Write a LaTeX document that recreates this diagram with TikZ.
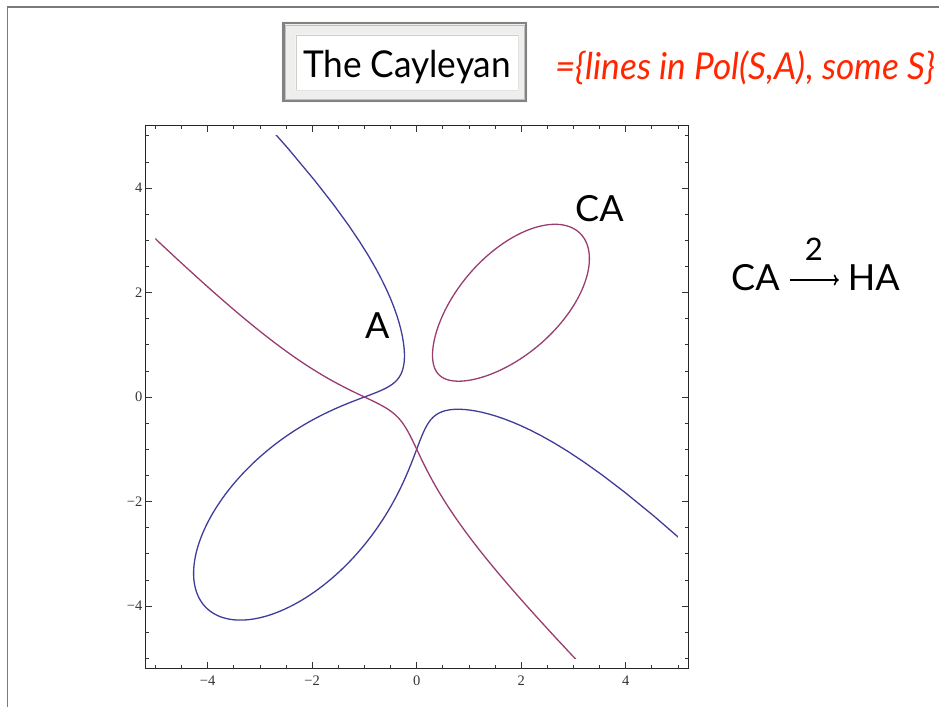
\documentclass[tikz,border=0pt]{standalone}
\usepackage{fontspec}
\setmainfont{Lato}
\newfontfamily\tickfont{Liberation Serif}
\usetikzlibrary{arrows.meta}

\definecolor{curveblue}{rgb}{0.247,0.24,0.6}
\definecolor{curvepurple}{rgb}{0.6,0.24,0.443}
\definecolor{titlered}{RGB}{255,38,0}
\definecolor{slidegray}{RGB}{122,122,122}
\definecolor{bevelgray}{RGB}{130,130,130}
\definecolor{matgray}{RGB}{238,238,236}
\definecolor{boxgray}{RGB}{205,205,205}

\tikzset{
  plotline/.style={line width=1.3pt, line join=round},
  tickline/.style={line width=0.7pt, black!80},
  ticklabel/.style={inner sep=0pt, text=black!80, font=\tickfont\fontsize{14.5}{16}\selectfont},
  curvelabel/.style={inner sep=0pt, font=\fontsize{36}{40}\selectfont},
  % the cubic A and its Cayleyan, written with u=x+y, v=x-y
  declare function={
    bu(\w)=(\w)*(\w)-8.06155;
    bv(\w)=(\w)*sqrt((bu(\w)*bu(\w)-0.06155*bu(\w)+0.49619)/(8-3*bu(\w)));
    pu(\w)=-0.75-(\w)*(\w);
    pv(\w)=(\w)*sqrt((pu(\w)*pu(\w)-7.11111*pu(\w)+5.33333)/(3*pu(\w)+6.36111));
    ou(\t)=3.55556+2.70345*cos(\t);
    ov(\t)=2.70345*sin(\t)*sqrt((ou(\t)+0.75)/(3*ou(\t)+6.36111));
  }
}

\begin{document}
\begin{tikzpicture}[x=1pt, y=1pt]
    \useasboundingbox (0,0) rectangle (939,707);

    % Slide border
    \draw[slidegray, line width=1.7pt] (7.5,0) -- (7.5,700) -- (939,700);

    % Title box
    \node[anchor=base, fill=white, draw=boxgray, line width=0.6pt, inner sep=4pt,
          minimum width=222pt, text height=39pt, text depth=8pt,
          font=\fontsize{37}{40}\selectfont] (title) at (407,629)
          {\resizebox{208pt}{\height}{The Cayleyan}};
    \fill[matgray, even odd rule]
        ([shift={(-14,-12)}]title.south west) rectangle ([shift={(9,13)}]title.north east)
        (title.south west) rectangle (title.north east);
    \draw[bevelgray, line width=2.8pt]
        ([shift={(-12.6,-10.6)}]title.south west) rectangle ([shift={(7.6,11.6)}]title.north east);
    \draw[white!75!black, line width=0.7pt]
        ([shift={(-10.6,-8.6)}]title.south west) rectangle ([shift={(5.6,9.6)}]title.north east);
    \node[anchor=base west, inner sep=0pt, text=titlered,
          font=\itshape\fontsize{37}{40}\selectfont] (setdef) at (555,627)
          {\resizebox{380pt}{\height}{=\{lines in Pol(S,A), some S\}}};

    % Plot of A (blue) and CA (purple)
    \begin{scope}[shift={(416.7,310)}, x=52.25pt, y=52.25pt]
        \draw[black!85, line width=1pt] (-5.2,-5.2) rectangle (5.2,5.2);
        \foreach \t in {-5,-4.5,...,5} {
            \draw[tickline] (\t,-5.2) -- ++(0,3.5pt);
            \draw[tickline] (\t,5.2) -- ++(0,-3.5pt);
            \draw[tickline] (-5.2,\t) -- ++(3.5pt,0);
            \draw[tickline] (5.2,\t) -- ++(-3.5pt,0);
        }
        \foreach \t/\lab in {-4/{−4}, -2/{−2}, 0/0, 2/2, 4/4} {
            \draw[tickline] (\t,-5.2) -- ++(0,6.5pt);
            \draw[tickline] (\t,5.2) -- ++(0,-6.5pt);
            \draw[tickline] (-5.2,\t) -- ++(6.5pt,0);
            \draw[tickline] (5.2,\t) -- ++(-6.5pt,0);
            \node[ticklabel, anchor=north] (xt\t) at ([yshift=-7pt]\t,-5.2) {\lab};
            \node[ticklabel, anchor=east] (yt\t) at ([xshift=-2.5pt]-5.2,\t) {\lab};
        }
        \begin{scope}
            \clip (-5,-5) rectangle (5,5);
            \draw[plotline, curveblue] plot[domain=-3.2344:3.2344, samples=401, variable=\w]
                ({(bu(\w)+bv(\w))/2}, {(bu(\w)-bv(\w))/2});
            \draw[plotline, curvepurple] plot[domain=-1.14:1.14, samples=301, variable=\w]
                ({(pu(\w)+pv(\w))/2}, {(pu(\w)-pv(\w))/2});
            \draw[plotline, curvepurple] plot[domain=0:360, samples=181, variable=\t]
                ({(ou(\t)+ov(\t))/2}, {(ou(\t)-ov(\t))/2}) -- cycle;
        \end{scope}
    \end{scope}

    % Labels
    \node[curvelabel, anchor=base west] (curveA) at (365,368) {A};
    \node[curvelabel, anchor=base west] (curveCA) at (575,485) {CA};
    \node[curvelabel, anchor=base west] (ca) at (731,416) {CA};
    \node[curvelabel, anchor=base east] (ha) at (900,416) {HA};
    \draw[line width=1.6pt, -{To[length=5pt, width=11pt]}, shorten <=10pt, shorten >=9pt]
        ([yshift=11pt]ca.base east) -- ([yshift=11pt]ha.base west)
        node[midway, anchor=base, inner sep=0pt, yshift=19pt, font=\fontsize{31}{34}\selectfont] (two) {2};
\end{tikzpicture}
\end{document}
